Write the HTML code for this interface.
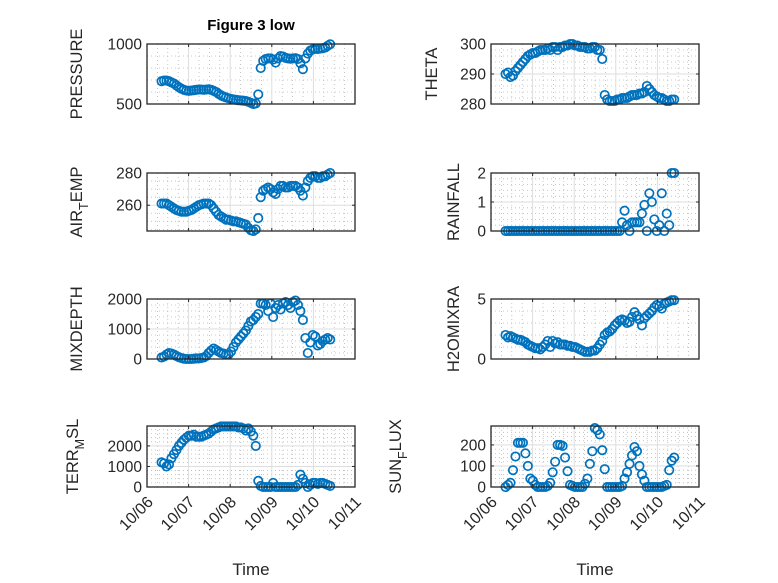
<!DOCTYPE html>
<html><head><meta charset="utf-8"><style>
html,body{margin:0;padding:0;background:#fff;}
svg{display:block;font-family:"Liberation Sans",sans-serif;}
</style></head><body>
<svg id="fig" width="778" height="583" viewBox="0 0 778 583" xmlns="http://www.w3.org/2000/svg">
<rect width="778" height="583" fill="#fff"/>
<text x="251" y="30" text-anchor="middle" font-size="15" font-weight="bold" fill="#000">Figure 3 low</text>
</svg>
<script>
const xTickLabels = ["10/06","10/07","10/08","10/09","10/10","10/11"];
const tStart = 0.35, tStep = 0.0596;
const pressure = [690,695,695,690,680,670,655,640,628,618,612,610,612,615,618,620,620,618,620,622,618,610,600,585,572,562,555,548,542,538,535,532,530,528,525,518,510,500,505,580,800,860,875,880,880,870,845,880,900,895,885,880,878,880,882,875,840,790,880,920,945,955,960,958,962,965,970,985,998];
const airTemp = [261,261,261,260,259,258,257,256.5,256,256,256,256.5,257,258,259,260,260.5,261,261,261,260,258,256,254,253,252,251,251,250.5,250,250,249.5,249,248.5,248,246,244.5,244,245,252,265,269,270,271,270,268,267,270,272,272,271,271,272,272,272,271,269,266,271,275,277,278,278,277,277,278,278,279,280];
const mixDepth = [50,80,150,200,180,150,100,60,30,10,0,0,0,10,20,20,30,50,100,200,280,350,300,250,200,180,150,150,250,400,550,650,750,850,950,1100,1250,1300,1400,1500,1850,1850,1800,1600,1850,1400,1700,1800,1650,1850,1900,1800,1700,1900,1950,1800,1600,1300,700,200,550,800,750,450,500,600,650,700,650];
const terrMsl = [1200,1150,1000,1100,1400,1600,1800,2000,2150,2300,2400,2500,2500,2550,2450,2450,2450,2500,2550,2600,2700,2800,2850,2900,2950,2950,2950,2950,2950,2950,2950,2900,2900,2850,2750,2850,2700,2500,2000,300,50,0,0,0,0,200,0,0,0,0,0,0,0,0,0,100,600,400,200,0,100,200,200,150,200,200,150,100,50];
const theta = [290,290.5,289,289.5,291,292,293,294,295,296,296.5,297,297,297.5,298,298,298,298.5,298,299,299,298,299,299,299.5,299.5,300,300,299.5,299.5,299,299,299,298.5,298.5,299,299,298,298,295,283,281.5,281,281,281,281.5,281.5,282,282,282,282.5,283,283,283,283.5,283.5,284,286,285,284,283,282.5,282,282,281.5,281,281,281.5,281.5];
const rainfall = [0,0,0,0,0,0,0,0,0,0,0,0,0,0,0,0,0,0,0,0,0,0,0,0,0,0,0,0,0,0,0,0,0,0,0,0,0,0,0,0,0,0,0,0,0,0,0,0.3,0.7,0.2,0,0.3,0.3,0.3,0.3,0.6,0.9,0,1.3,1.0,0.4,0,0.2,1.3,0,0.6,0.2,2.0,2.0];
const h2o = [2.0,1.8,1.9,1.8,1.7,1.6,1.6,1.5,1.4,1.2,1.1,1.0,0.9,0.9,0.8,1.0,1.2,1.5,1.0,1.5,1.3,1.4,1.2,1.2,1.2,1.1,1.1,1.0,1.0,0.9,0.8,0.7,0.6,0.6,0.6,0.7,0.7,0.9,1.2,1.5,2.0,2.2,2.3,2.5,2.8,3.0,3.2,3.3,3.2,3.0,3.1,3.5,3.9,3.6,3.3,2.8,3.4,3.6,3.8,4.0,4.3,4.5,4.4,4.2,4.6,4.7,4.8,4.9,4.9];
const sunFlux = [0,10,20,80,145,210,210,210,160,100,40,30,10,0,0,0,0,5,20,70,120,200,200,195,140,75,10,5,0,0,0,0,15,40,110,170,280,270,250,175,85,0,0,0,0,0,0,5,40,70,110,150,190,170,100,60,30,0,0,0,0,0,0,0,5,10,80,125,140];

const NS="http://www.w3.org/2000/svg";
const svg=document.getElementById('fig');
function mk(tag,attrs,parent){const e=document.createElementNS(NS,tag);for(const k in attrs)e.setAttribute(k,attrs[k]);(parent||svg).appendChild(e);return e;}

const panels=[
 {name:'pressure',data:pressure,x0:147,x1:355,y0:44,y1:104,ymin:500,ymax:1000,ticks:[500,1000],minor:100,label:['PRESSURE'],lx:82,showX:false},
 {name:'air-temp',data:airTemp,x0:147,x1:355,y0:173,y1:231,ymin:244,ymax:280,ticks:[260,280],minor:5,label:['AIR','T','EMP'],lx:82,showX:false},
 {name:'mixdepth',data:mixDepth,x0:147,x1:355,y0:299,y1:359,ymin:0,ymax:2000,ticks:[0,1000,2000],minor:200,label:['MIXDEPTH'],lx:82,showX:false},
 {name:'terr-msl',data:terrMsl,x0:147,x1:355,y0:426,y1:487,ymin:0,ymax:2970,ticks:[0,1000,2000],minor:200,label:['TERR','M','SL'],lx:78,showX:true},
 {name:'theta',data:theta,x0:491,x1:699,y0:44,y1:104,ymin:280,ymax:300,ticks:[280,290,300],minor:2,label:['THETA'],lx:437,showX:false},
 {name:'rainfall',data:rainfall,x0:491,x1:699,y0:173,y1:231,ymin:0,ymax:2,ticks:[0,1,2],minor:0.2,label:['RAINFALL'],lx:459,showX:false},
 {name:'h2omixra',data:h2o,x0:491,x1:699,y0:299,y1:359,ymin:0,ymax:5,ticks:[0,5],minor:1,label:['H2OMIXRA'],lx:459,showX:false},
 {name:'sun-flux',data:sunFlux,x0:491,x1:699,y0:426,y1:487,ymin:0,ymax:290,ticks:[0,100,200],minor:20,label:['SUN','F','LUX'],lx:401,showX:true}
];

panels.forEach(p=>{
 const g=mk('g',{});
 
 
 const xs=t=>p.x0+(t/5)*(p.x1-p.x0);
 const ys=v=>p.y1-(v-p.ymin)/(p.ymax-p.ymin)*(p.y1-p.y0);
 mk('rect',{x:p.x0,y:p.y0,width:p.x1-p.x0,height:p.y1-p.y0,fill:'#fff'},g);
 for(let t=0.25;t<5;t+=0.25){ if(Math.abs(t-Math.round(t))<1e-6) continue;
  mk('line',{x1:xs(t),x2:xs(t),y1:p.y0,y2:p.y1,stroke:'#b8b8b8','stroke-width':0.8,'stroke-dasharray':'1,3'},g);}
 for(let v=Math.ceil(p.ymin/p.minor)*p.minor;v<=p.ymax;v+=p.minor){
  if(p.ticks.some(tk=>Math.abs(tk-v)<1e-6)) continue;
  mk('line',{x1:p.x0,x2:p.x1,y1:ys(v),y2:ys(v),stroke:'#b8b8b8','stroke-width':0.8,'stroke-dasharray':'1,3'},g);}
 for(let d=1;d<5;d++) mk('line',{x1:xs(d),x2:xs(d),y1:p.y0,y2:p.y1,stroke:'#dedede','stroke-width':1},g);
 p.ticks.forEach(v=>mk('line',{x1:p.x0,x2:p.x1,y1:ys(v),y2:ys(v),stroke:'#dedede','stroke-width':1},g));
 const dg=mk('g',{},g);
 
 
 p.data.forEach((v,i)=>{
  const c=mk('circle',{cx:xs(tStart+i*tStep),cy:ys(v),r:4.2,fill:'none',stroke:'#0072BD','stroke-width':1.7},dg);
  
  
 });
 mk('rect',{x:p.x0,y:p.y0,width:p.x1-p.x0,height:p.y1-p.y0,fill:'none',stroke:'#262626','stroke-width':1.3},g);
 for(let d=0;d<=5;d++){
  mk('line',{x1:xs(d),x2:xs(d),y1:p.y1,y2:p.y1-3,stroke:'#262626'},g);
  mk('line',{x1:xs(d),x2:xs(d),y1:p.y0,y2:p.y0+3,stroke:'#262626'},g);
  if(p.showX){
   const tx=mk('text',{x:0,y:0,'font-size':16,fill:'#262626','text-anchor':'end',transform:`translate(${xs(d)+7},${p.y1+16}) rotate(-45)`},g);
   tx.textContent=xTickLabels[d];
   
   
  }
 }
 p.ticks.forEach(v=>{
  mk('line',{x1:p.x0,x2:p.x0+3,y1:ys(v),y2:ys(v),stroke:'#262626'},g);
  mk('line',{x1:p.x1,x2:p.x1-3,y1:ys(v),y2:ys(v),stroke:'#262626'},g);
  const tx=mk('text',{x:p.x0-5,y:ys(v)+5.5,'font-size':15.5,fill:'#262626','text-anchor':'end'},g);
  tx.textContent=String(v);
  
  
 });
 const cy=(p.y0+p.y1)/2;
 const yl=mk('text',{x:0,y:0,'font-size':16.5,fill:'#262626','text-anchor':'middle',transform:`translate(${p.lx},${cy}) rotate(-90)`},g);
 
 
 if(p.label.length===1){yl.textContent=p.label[0];}
 else{
  const a=mk('tspan',{},yl);a.textContent=p.label[0];
  const b=mk('tspan',{dy:6,'font-size':12.5},yl);b.textContent=p.label[1];
  const c=mk('tspan',{dy:-6},yl);c.textContent=p.label[2];
 }
 if(p.showX){
  const xl=mk('text',{x:(p.x0+p.x1)/2,y:575,'font-size':17,fill:'#262626','text-anchor':'middle'},g);
  xl.textContent='Time';
  
  
 }
});
</script>
</body></html>
